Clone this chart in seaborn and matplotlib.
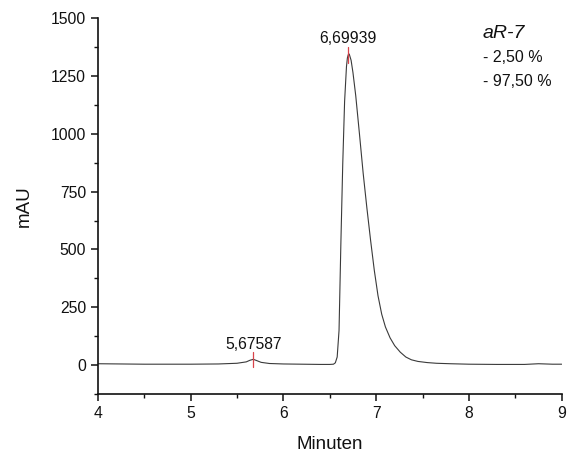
import matplotlib
matplotlib.use("Agg")
import matplotlib.pyplot as plt
from matplotlib.ticker import MultipleLocator
import seaborn as sns
import pandas as pd

# --- data ---
time_min = [4.0, 4.5, 5.0, 5.3, 5.5, 5.6, 5.64, 5.676, 5.71, 5.76, 5.85, 6.0, 6.2, 6.4,
            6.5, 6.54, 6.56, 6.58, 6.60, 6.62, 6.64, 6.66, 6.68, 6.69, 6.70, 6.71, 6.73,
            6.75, 6.78, 6.82, 6.86, 6.90, 6.94, 6.98, 7.02, 7.06, 7.10, 7.15, 7.20, 7.26,
            7.32, 7.38, 7.45, 7.55, 7.65, 7.80, 8.0, 8.3, 8.6, 8.75, 8.9, 9.0]
absorb_mau = [6, 4, 4, 5, 8, 14, 21, 25, 20, 12, 7, 5, 4, 3,
              3, 4, 10, 35, 150, 530, 870, 1140, 1290, 1328, 1343, 1345, 1318,
              1265, 1165, 1000, 830, 680, 540, 410, 300, 220, 165, 118, 84, 56,
              35, 23, 16, 11, 8, 6, 4, 3, 3, 6, 4, 4]
peak_times = [5.67587, 6.69939]
peak_heights = [25, 1342]
peak_labels = ["5,67587", "6,69939"]
legend_title = "aR-7"
legend_lines = ["- 2,50 %", "- 97,50 %"]
x_ticks = [4, 5, 6, 7, 8, 9]
y_ticks = [0, 250, 500, 750, 1000, 1250, 1500]

df = pd.DataFrame({"Minuten": time_min, "mAU": absorb_mau})

sns.set_style("ticks")
plt.rcParams["font.family"] = ["Liberation Sans", "DejaVu Sans"]
plt.rcParams["xtick.direction"] = "out"
plt.rcParams["ytick.direction"] = "out"

fig = plt.figure(figsize=(5.72, 4.55), dpi=100)
ax = fig.add_axes([0.171, 0.134, 0.811, 0.826])

sns.lineplot(data=df, x="Minuten", y="mAU", ax=ax, color="#3a3a3a",
             linewidth=0.8, sort=False, estimator=None)

# peak markers and labels
label_offsets = [66, 71]
for pt, ph, lab, off in zip(peak_times, peak_heights, peak_labels, label_offsets):
    ax.plot([pt, pt], [ph - 35, ph + 33], color="#d9434a", linewidth=0.9)
    ax.text(pt, ph + off, lab, ha="center", va="center", fontsize=11.3, color="#111111")

ax.text(8.15, 1435, legend_title, fontsize=14, style="italic", va="center", ha="left",
        color="#111111")
for i, line in enumerate(legend_lines):
    ax.text(8.15, 1331 - i * 104, line, fontsize=11.5, va="center", ha="left",
            color="#111111")

ax.set_xlim(4, 9)
ax.set_ylim(-125, 1500)
ax.set_xticks(x_ticks)
ax.set_yticks(y_ticks)
ax.xaxis.set_minor_locator(MultipleLocator(0.5))
ax.yaxis.set_minor_locator(MultipleLocator(125))
ax.tick_params(which="major", length=5, width=1.1, labelsize=11.3, colors="#111111")
ax.tick_params(which="minor", length=3, width=1.0, colors="#111111")
ax.set_xlabel("Minuten", fontsize=13.5, color="#111111", labelpad=11)
ax.set_ylabel("mAU", fontsize=13.5, color="#111111", labelpad=13)
sns.despine(ax=ax)
for s in ["left", "bottom"]:
    ax.spines[s].set_linewidth(1.2)
    ax.spines[s].set_color("#111111")

fig.savefig("out.png", dpi=100)
